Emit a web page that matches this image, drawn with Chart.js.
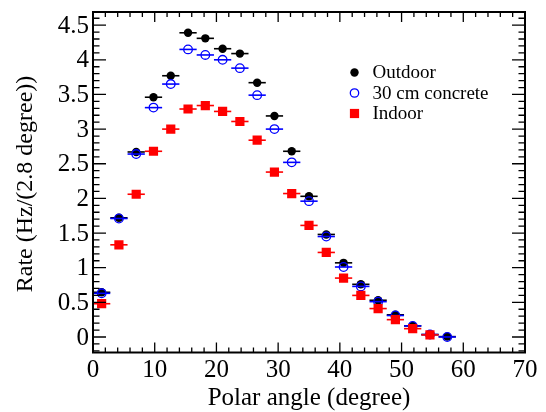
<!DOCTYPE html>
<html>
<head>
<meta charset="utf-8">
<title>Rate vs polar angle</title>
<script src="https://cdn.jsdelivr.net/npm/chart.js@4.4.1/dist/chart.umd.min.js"></script>
<style>
    body { margin: 0; background: #fff; }
    #wrap { width: 546px; height: 412px; }
</style>
</head>
<body>
<div id="wrap"><canvas id="grafico" width="546" height="412"></canvas></div>
<script>
// bin centres (degree), bin width 2.8 degree
const angulos = [1.4, 4.2, 7.0, 9.8, 12.6, 15.4, 18.2, 21.0, 23.8, 26.6, 29.4, 32.2, 35.0, 37.8, 40.6, 43.4, 46.2, 49.0, 51.8, 54.6, 57.4];
const anchoBin = 2.8;

const outdoor  = [0.645, 1.72, 2.67, 3.46, 3.77, 4.39, 4.31, 4.16, 4.09, 3.67, 3.19, 2.68, 2.03, 1.48, 1.07, 0.76, 0.53, 0.32, 0.16, 0.035, 0.005];
const concrete = [0.63, 1.71, 2.64, 3.31, 3.65, 4.15, 4.07, 4.00, 3.88, 3.49, 3.00, 2.52, 1.96, 1.45, 1.01, 0.73, 0.51, 0.31, 0.16, 0.035, 0.0];
const indoor   = [0.48, 1.33, 2.06, 2.68, 3.00, 3.29, 3.34, 3.255, 3.11, 2.84, 2.38, 2.07, 1.61, 1.22, 0.85, 0.60, 0.41, 0.25, 0.12, 0.03, null];

const xTicks = [0, 10, 20, 30, 40, 50, 60, 70];
const yTicks = [0, 0.5, 1, 1.5, 2, 2.5, 3, 3.5, 4, 4.5];
const yTickLabels = ['0', '0.5', '1', '1.5', '2', '2.5', '3', '3.5', '4', '4.5'];

const nombres = ['Outdoor', '30 cm concrete', 'Indoor'];
const FUENTE = '"Liberation Serif", "Times New Roman", serif';

function puntos(valores) {
    const out = [];
    valores.forEach((v, i) => {
        if (v !== null) out.push({ x: angulos[i], y: v });
    });
    return out;
}

// horizontal error bars, drawn just before each dataset's markers
const barrasError = {
    id: 'barrasError',
    beforeDatasetDraw(chart, args) {
        const ctx = chart.ctx;
        const ds = chart.data.datasets[args.index];
        const xs = chart.scales.x, ys = chart.scales.y;
        ctx.save();
        ctx.strokeStyle = ds.borderColor;
        ctx.lineWidth = 1.6;
        ds.data.forEach(p => {
            const y = ys.getPixelForValue(p.y);
            ctx.beginPath();
            ctx.moveTo(xs.getPixelForValue(p.x - anchoBin / 2), y);
            ctx.lineTo(xs.getPixelForValue(p.x + anchoBin / 2), y);
            ctx.stroke();
        });
        ctx.restore();
    }
};

// ROOT-like frame: box, inner ticks on all sides, labels, titles, legend
const marco = {
    id: 'marco',
    afterDraw(chart) {
        const ctx = chart.ctx;
        const a = chart.chartArea;
        const xs = chart.scales.x, ys = chart.scales.y;
        ctx.save();

        // ticks
        ctx.strokeStyle = '#000';
        ctx.lineWidth = 1.3;
        ctx.beginPath();
        for (let v = 0; v <= 70; v += 2) {
            const x = xs.getPixelForValue(v);
            const l = (v % 10 === 0) ? 10 : 5;
            ctx.moveTo(x, a.bottom); ctx.lineTo(x, a.bottom - l);
            ctx.moveTo(x, a.top); ctx.lineTo(x, a.top + l);
        }
        for (let k = -2; k <= 46; k++) {
            const v = k / 10;
            const y = ys.getPixelForValue(v);
            const l = (k % 5 === 0) ? 13 : 6.5;
            ctx.moveTo(a.left, y); ctx.lineTo(a.left + l, y);
            ctx.moveTo(a.right, y); ctx.lineTo(a.right - l, y);
        }
        ctx.stroke();

        // box
        ctx.lineWidth = 2;
        ctx.strokeRect(a.left, a.top, a.right - a.left, a.bottom - a.top);

        // tick labels
        ctx.fillStyle = '#000';
        ctx.font = '25px ' + FUENTE;
        ctx.textAlign = 'center';
        ctx.textBaseline = 'alphabetic';
        xTicks.forEach(v => ctx.fillText(String(v), xs.getPixelForValue(v), 377));
        ctx.textAlign = 'right';
        ctx.textBaseline = 'middle';
        yTicks.forEach((v, i) => ctx.fillText(yTickLabels[i], 89, ys.getPixelForValue(v) + 1));

        // axis titles
        ctx.textAlign = 'center';
        ctx.textBaseline = 'alphabetic';
        ctx.fillText('Polar angle (degree)', (a.left + a.right) / 2, 405);
        ctx.font = '24px ' + FUENTE;
        ctx.save();
        ctx.translate(32, 184);
        ctx.rotate(-Math.PI / 2);
        ctx.fillText('Rate (Hz/(2.8 degree))', 0, 0);
        ctx.restore();

        // legend
        const filas = [72.5, 93, 113.5];
        const mx = 354.5;
        ctx.font = '19px ' + FUENTE;
        ctx.textAlign = 'left';
        ctx.textBaseline = 'middle';
        nombres.forEach((n, i) => ctx.fillText(n, 372.5, filas[i] + 1));
        ctx.beginPath();
        ctx.arc(mx, filas[0], 4.2, 0, Math.PI * 2);
        ctx.fill();
        ctx.strokeStyle = '#0000ff';
        ctx.lineWidth = 1.3;
        ctx.beginPath();
        ctx.arc(mx, filas[1], 4.2, 0, Math.PI * 2);
        ctx.stroke();
        ctx.fillStyle = '#ff0000';
        ctx.fillRect(mx - 4.6, filas[2] - 4.6, 9.2, 9.2);

        ctx.restore();
    }
};

new Chart(document.getElementById('grafico'), {
    type: 'scatter',
    data: {
        datasets: [
            {
                label: nombres[0],
                data: puntos(outdoor),
                pointStyle: 'circle',
                pointRadius: 4.2,
                borderWidth: 0,
                backgroundColor: '#000000',
                borderColor: '#000000',
                order: 2
            },
            {
                label: nombres[1],
                data: puntos(concrete),
                pointStyle: 'circle',
                pointRadius: 4.3,
                borderWidth: 1.3,
                backgroundColor: 'rgba(0,0,0,0)',
                borderColor: '#0000ff',
                order: 1
            },
            {
                label: nombres[2],
                data: puntos(indoor),
                pointStyle: 'rect',
                pointRadius: 6.5,
                borderWidth: 0,
                backgroundColor: '#ff0000',
                borderColor: '#ff0000',
                order: 0
            }
        ]
    },
    options: {
        responsive: false,
        animation: false,
        events: [],
        layout: { padding: { left: 93, right: 21, top: 12, bottom: 59.5 } },
        plugins: {
            legend: { display: false },
            tooltip: { enabled: false }
        },
        scales: {
            x: { type: 'linear', min: 0, max: 70, display: false },
            y: { type: 'linear', min: -0.224, max: 4.69, display: false }
        }
    },
    plugins: [barrasError, marco]
});
</script>
</body>
</html>
